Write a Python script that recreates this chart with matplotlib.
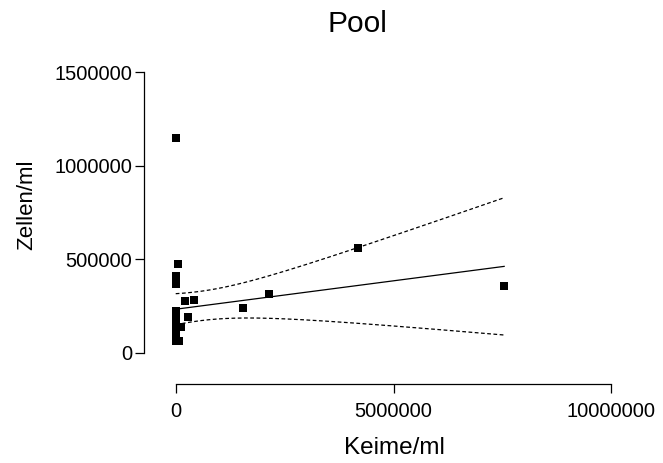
import numpy as np
import matplotlib
matplotlib.use('Agg')
import matplotlib.pyplot as plt

# Werte (viele Punkte bei x=0 liegen übereinander)
keime = [0, 60000, 0, 0, 0, 210000, 420000, 0, 0, 0, 0, 0, 0, 0, 0, 0,
         290000, 130000, 80000, 1545000, 2150000, 4180000, 7540000,
         0, 0, 0, 0, 0, 0, 0, 0]
zellen = [1150000, 475000, 405000, 385000, 365000, 277000, 282000, 210000,
          190000, 170000, 150000, 130000, 110000, 90000, 75000, 60000,
          193000, 137000, 62000, 241000, 314000, 559000, 355000,
          60000, 60000, 70000, 80000, 210000, 215000, 225000, 410000]
x_ticks = [0, 5000000, 10000000]
y_ticks = [0, 500000, 1000000, 1500000]

plt.rcParams['font.family'] = ['Liberation Sans', 'DejaVu Sans']

x = np.array(keime, dtype=float)
y = np.array(zellen, dtype=float)

# lineare Regression mit 95% Konfidenzband
n = len(x)
slope, intercept = np.polyfit(x, y, 1)
xs = np.linspace(x.min(), x.max(), 200)
yhat = intercept + slope * xs
resid = y - (intercept + slope * x)
s = np.sqrt(np.sum(resid ** 2) / (n - 2))
sxx = np.sum((x - x.mean()) ** 2)
t = 2.045  # t(0.975, df=29)
band = t * s * np.sqrt(1 / n + (xs - x.mean()) ** 2 / sxx)

fig = plt.figure(figsize=(6.63, 4.63), dpi=100)
ax = fig.add_axes([144.3 / 663, 78.7 / 463, 467 / 663, 312.0 / 463])

ax.plot(x, y, 's', color='black', ms=5.2, mec='black', mew=0)
ax.plot(xs, yhat, color='black', lw=0.9)
ax.plot(xs, yhat + band, color='black', lw=0.9, ls=(0, (3, 2)))
ax.plot(xs, yhat - band, color='black', lw=0.9, ls=(0, (3, 2)))

ax.set_xlim(-721000, 10000000)
ax.set_ylim(-169000, 1500000)
ax.spines['top'].set_visible(False)
ax.spines['right'].set_visible(False)
ax.spines['left'].set_bounds(0, 1500000)
ax.spines['bottom'].set_bounds(0, 10000000)
ax.set_xticks(x_ticks)
ax.set_yticks(y_ticks)
ax.set_xticklabels([str(v) for v in x_ticks])
ax.set_yticklabels([str(v) for v in y_ticks])
ax.tick_params(axis='x', length=6.5, width=0.9, pad=6, labelsize=14.5)
ax.tick_params(axis='y', length=6.3, width=0.9, pad=2.4, labelsize=14.5)
for sp in ('left', 'bottom'):
    ax.spines[sp].set_linewidth(0.9)

fig.text(357 / 663, 1 - 23.5 / 463, 'Pool', ha='center', va='center', fontsize=21.5)
fig.text(394 / 663, 1 - 448 / 463, 'Keime/ml', ha='center', va='center', fontsize=17.5)
fig.text(27 / 663, 1 - 204.7 / 463, 'Zellen/ml', ha='center', va='center',
         rotation=90, fontsize=16)

fig.savefig('out.png', dpi=100)
